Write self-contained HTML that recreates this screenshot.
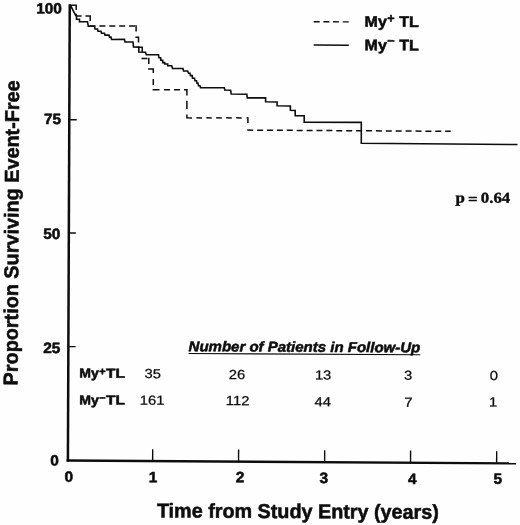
<!DOCTYPE html>
<html><head><meta charset="utf-8"><title>Survival</title>
<style>
html,body{margin:0;padding:0;background:#fefefe;}
body{width:520px;height:525px;overflow:hidden;}
svg{display:block;}
text{font-family:"Liberation Sans",Arial,Helvetica,sans-serif;fill:#0d0d0d;}
.b{font-weight:bold;stroke:#0d0d0d;stroke-width:0.55;stroke-linejoin:round;}
.r{stroke:#0d0d0d;stroke-width:0.25;}
.ser{font-family:"Liberation Serif","Times New Roman",serif;font-weight:bold;stroke:#0d0d0d;stroke-width:0.4;}
</style></head><body>
<svg width="520" height="525" viewBox="0 0 520 525">
<rect width="520" height="525" fill="#fefefe"/>
<g stroke="#0d0d0d" fill="none" stroke-linecap="butt">
<path d="M69.75,4.3 L67.9,461.8" stroke-width="2.5"/>
<path d="M66.6,460.5 L516,463.4" stroke-width="2.4"/>
<path d="M152.7,449.2 L152.64999999999998,461.3" stroke-width="1.4"/>
<path d="M238.6,449.5 L238.54999999999998,461.5" stroke-width="1.4"/>
<path d="M324.7,450.2 L324.65,461.9" stroke-width="1.4"/>
<path d="M410.6,450.6 L410.55,462.3" stroke-width="1.4"/>
<path d="M496.7,451.2 L496.65,463.3" stroke-width="1.4"/>
<path d="M69.35,119.7 L76.7,119.73" stroke-width="1.4"/>
<path d="M68.85,233.0 L75.9,233.03" stroke-width="1.4"/>
<path d="M68.5,346.6 L75.6,346.63" stroke-width="1.4"/>
</g>
<polyline points="70.50,5.30 71.30,6.80 72.30,8.80 73.30,10.80 74.40,12.90 75.50,15.00 76.50,16.50 76.50,19.20 79.50,19.20 79.50,21.70 87.50,21.70 88.30,26.20 94.50,26.20 95.00,29.00 97.50,29.00 98.00,31.30 101.00,31.30 101.50,33.30 104.50,33.30 105.00,35.10 109.00,35.10 109.50,37.10 111.00,37.10 111.60,39.50 124.50,39.40 125.00,41.90 133.00,42.00 133.50,46.90 138.80,47.10 138.80,52.00 145.50,52.20 146.30,54.70 158.50,54.80 158.90,57.80 160.70,57.80 160.70,60.20 162.70,60.20 162.70,62.60 164.70,62.60 164.70,64.00 167.70,64.00 167.70,65.80 171.70,65.80 172.50,68.50 183.00,68.50 183.50,71.00 187.70,71.00 188.50,73.20 190.00,73.20 190.50,75.60 192.20,75.60 192.50,78.20 194.50,78.20 195.00,80.70 196.50,80.70 197.00,83.20 198.00,83.20 198.50,85.70 200.00,85.70 200.50,87.60 224.30,87.70 224.80,90.00 230.60,90.20 231.20,94.00 246.80,94.30 247.30,97.90 265.60,97.90 265.60,101.70 277.10,102.00 277.10,105.80 290.40,106.00 290.40,110.20 295.20,110.40 295.20,115.60 304.20,115.80 304.20,122.20 361.30,122.40 361.30,143.30 517.50,144.50" fill="none" stroke="#0d0d0d" stroke-width="1.6" stroke-linejoin="miter"/>
<path d="M69.50,5.20L75.50,5.20 M76.20,4.50L76.20,10.00 M76.20,13.80L76.20,16.00 M76.20,16.00L81.60,16.00 M85.50,16.00L90.90,16.00 M90.20,15.30L90.20,21.00 M89.50,26.00L95.50,26.00 M99.40,26.00L105.40,26.00 M109.30,26.00L115.30,26.00 M119.20,26.00L125.20,26.00 M129.10,26.00L135.10,26.00 M136.10,25.30L136.10,31.50 M135.40,37.20L139.20,37.20 M138.50,36.50L138.50,42.50 M137.80,47.20L142.90,47.20 M142.20,46.50L142.20,52.00 M141.50,58.50L147.50,58.50 M148.80,57.80L148.80,64.00 M148.10,69.00L154.00,69.00 M153.30,68.30L153.30,73.00 M153.30,79.00L153.30,85.00 M152.60,89.80L159.50,89.80 M164.00,89.80L170.00,89.80 M174.00,89.80L180.00,89.80 M184.00,89.80L187.60,89.80 M186.90,89.10L186.90,95.60 M186.90,100.80L186.90,109.00 M186.90,114.60L186.90,118.30 M186.20,117.80L192.00,117.90 M196.40,117.80L202.00,117.90 M206.30,117.80L211.70,117.90 M216.20,117.80L221.70,117.90 M226.20,117.80L231.80,117.90 M236.20,117.80L241.70,117.90 M246.60,117.80L248.60,117.90 M247.90,117.20L247.90,122.90 M247.20,130.10L253.20,130.14 M257.10,130.16L263.10,130.19 M267.00,130.22L273.00,130.25 M276.90,130.28L282.90,130.31 M286.80,130.33L292.80,130.37 M296.70,130.39L302.70,130.43 M306.60,130.45L312.60,130.49 M316.50,130.51L322.50,130.54 M326.40,130.57L332.40,130.60 M336.30,130.63L342.30,130.66 M346.20,130.68L352.20,130.72 M356.10,130.74L362.10,130.78 M366.00,130.80L372.00,130.84 M375.90,130.86L381.90,130.89 M385.80,130.92L391.80,130.95 M395.70,130.98L401.70,131.01 M405.60,131.03L411.60,131.07 M415.50,131.09L421.50,131.13 M425.40,131.15L431.40,131.19 M435.30,131.21L441.30,131.24 M445.20,131.27L450.75,131.30" fill="none" stroke="#0d0d0d" stroke-width="1.5"/>
<path d="M313.7,21.7 L348.8,21.9" stroke="#0d0d0d" stroke-width="1.4" stroke-dasharray="6 3.7" fill="none"/>
<path d="M313.7,45 L348.8,45.2" stroke="#0d0d0d" stroke-width="1.5" fill="none"/>
<text class="b" x="364.6" y="26.7" transform="rotate(0.3 364.6 26.7)" font-size="15.4" textLength="22.2" lengthAdjust="spacingAndGlyphs">My</text><text class="b" x="387.3" y="22.6" transform="rotate(0.3 387.3 22.6)" font-size="12.6">+</text><text class="b" x="399.3" y="26.849999999999998" transform="rotate(0.3 399.3 26.7)" font-size="15.4" textLength="19.6" lengthAdjust="spacingAndGlyphs">TL</text>
<text class="b" x="364.6" y="50.2" transform="rotate(0.3 364.6 50.2)" font-size="15.4" textLength="22.2" lengthAdjust="spacingAndGlyphs">My</text><text class="b" x="387.3" y="45.1" transform="rotate(0.3 387.3 45.1)" font-size="12.6">−</text><text class="b" x="399.3" y="50.35" transform="rotate(0.3 399.3 50.2)" font-size="15.4" textLength="19.6" lengthAdjust="spacingAndGlyphs">TL</text>
<text class="b" transform="translate(36.13,13.39) rotate(0.3) scale(1.025,1)" font-size="15.00">100</text>
<text class="b" transform="translate(44.07,124.07) rotate(0.3) scale(1.025,1)" font-size="15.00">75</text>
<text class="b" transform="translate(43.20,238.86) rotate(0.3) scale(1.025,1)" font-size="15.00">50</text>
<text class="b" transform="translate(43.22,352.90) rotate(0.3) scale(1.025,1)" font-size="15.00">25</text>
<text class="b" transform="translate(50.35,465.40) rotate(0.3) scale(1.025,1)" font-size="15.00">0</text>
<text class="b" transform="translate(64.60,481.74) rotate(0.3) scale(1.025,1)" font-size="15.00">0</text>
<text class="b" transform="translate(148.71,482.13) rotate(0.3) scale(1.025,1)" font-size="15.00">1</text>
<text class="b" transform="translate(235.80,482.30) rotate(0.3) scale(1.025,1)" font-size="15.00">2</text>
<text class="b" transform="translate(319.55,482.97) rotate(0.3) scale(1.025,1)" font-size="15.00">3</text>
<text class="b" transform="translate(407.91,484.11) rotate(0.3) scale(1.025,1)" font-size="15.00">4</text>
<text class="b" transform="translate(493.48,483.84) rotate(0.3) scale(1.025,1)" font-size="15.00">5</text>
<text class="r" transform="translate(144.42,378.09) rotate(0.3) scale(1.120,1)" font-size="13.20">35</text>
<text class="r" transform="translate(139.76,404.72) rotate(0.3) scale(1.120,1)" font-size="13.20">161</text>
<text class="r" transform="translate(228.87,378.88) rotate(0.3) scale(1.120,1)" font-size="13.20">26</text>
<text class="r" transform="translate(225.83,405.05) rotate(0.3) scale(1.120,1)" font-size="13.20">112</text>
<text class="r" transform="translate(314.88,379.48) rotate(0.3) scale(1.120,1)" font-size="13.20">13</text>
<text class="r" transform="translate(314.44,406.25) rotate(0.3) scale(1.120,1)" font-size="13.20">44</text>
<text class="r" transform="translate(403.99,379.74) rotate(0.3) scale(1.120,1)" font-size="13.20">3</text>
<text class="r" transform="translate(404.37,406.67) rotate(0.3) scale(1.120,1)" font-size="13.20">7</text>
<text class="r" transform="translate(489.84,379.98) rotate(0.3) scale(1.120,1)" font-size="13.20">0</text>
<text class="r" transform="translate(489.09,406.43) rotate(0.3) scale(1.120,1)" font-size="13.20">1</text>
<text class="b" x="156.9" y="517.4" font-size="20.1" textLength="281.9" lengthAdjust="spacingAndGlyphs" transform="rotate(0.3 156.9 517.4)">Time from Study Entry (years)</text>
<text class="b" transform="translate(17.6,385.4) rotate(-89.7)" font-size="20.1" textLength="305" lengthAdjust="spacingAndGlyphs">Proportion Surviving Event-Free</text>
<text class="ser" transform="translate(455.4,202.6) rotate(0.3) scale(1.115,1)" font-size="15.1" word-spacing="-0.9">p <tspan dy="1.2">=</tspan><tspan dy="-1.2"> 0.64</tspan></text>
<text class="b" x="188.6" y="351.2" font-size="14.3" font-style="italic" textLength="231.6" lengthAdjust="spacingAndGlyphs" transform="rotate(0.3 188.6 351.2)">Number of Patients in Follow-Up</text>
<path d="M188.5,353.5 L420.3,354.7" stroke="#0d0d0d" stroke-width="1.1"/>
<text class="b" x="79.3" y="377.5" transform="rotate(0.3 79.3 377.5)" font-size="13.2" textLength="19.5" lengthAdjust="spacingAndGlyphs">My</text><text class="b" x="99.3" y="375.0" transform="rotate(0.3 99.3 375.0)" font-size="10.8">+</text><text class="b" x="106.1" y="377.65" transform="rotate(0.3 106.1 377.5)" font-size="13.2" textLength="18.9" lengthAdjust="spacingAndGlyphs">TL</text>
<text class="b" x="79.3" y="404.4" transform="rotate(0.3 79.3 404.4)" font-size="13.2" textLength="19.5" lengthAdjust="spacingAndGlyphs">My</text><text class="b" x="99.3" y="401.6" transform="rotate(0.3 99.3 401.6)" font-size="10.8">−</text><text class="b" x="106.1" y="404.54999999999995" transform="rotate(0.3 106.1 404.4)" font-size="13.2" textLength="18.9" lengthAdjust="spacingAndGlyphs">TL</text>
</svg></body></html>
